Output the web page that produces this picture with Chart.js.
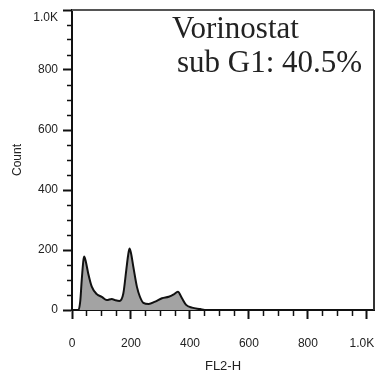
<!DOCTYPE html>
<html>
<head>
<meta charset="utf-8">
<title>Vorinostat FL2-H histogram</title>
<script src="https://cdn.jsdelivr.net/npm/chart.js@4"></script>
<style>
  html, body { margin: 0; padding: 0; background: #fff; }
  canvas { display: block; }
</style>
</head>
<body>
<canvas id="hist" width="375" height="376"></canvas>
<script>
// FL2-H channel values and event counts along the histogram outline
const fl2 = [0, 22, 28, 33, 38, 41, 46, 55, 67, 84, 101, 118, 135, 146, 161, 174, 184, 190, 195, 200, 208, 220, 230, 242, 260, 282, 305, 328, 345, 359, 373, 387, 407, 435, 450, 1024];
const counts = [0, 0, 30, 100, 160, 178, 165, 122, 78, 53, 44, 33, 37, 33, 30, 55, 133, 180, 205, 190, 144, 78, 45, 24, 20, 28, 39, 44, 52, 61, 39, 17, 8, 3, 0, 0];

// labelled ticks (same on both axes), minor ticks every 50
const majorTicks = [0, 200, 400, 600, 800, 1000];
const tickLabels = ['0', '200', '400', '600', '800', '1.0K'];
const minorStep = 50;

const sampleName = 'Vorinostat';
const subG1Text = 'sub G1: 40.5%';

const fl2Max = 1024;
const countMax = 1000;

function labelFor(value) {
  const i = majorTicks.indexOf(value);
  return i < 0 ? '' : tickLabels[i];
}

function isMajor(ctx) {
  return ctx.tick && majorTicks.includes(ctx.tick.value);
}

function buildTicks(scale) {
  const ticks = [];
  for (let v = 0; v <= majorTicks[majorTicks.length - 1]; v += minorStep) {
    ticks.push({ value: v });
  }
  scale.ticks = ticks;
}

// keep label overhang from shrinking the plot box
function noPadding(scale) {
  scale.paddingLeft = scale.paddingRight = 0;
  scale.paddingTop = scale.paddingBottom = 0;
}

const tickFont = { family: 'Liberation Sans, Arial, sans-serif', size: 12 };

// top and right edges of the plot box, plus the sample caption
const framePlugin = {
  id: 'frame',
  afterDraw(chart) {
    const { ctx, chartArea: a } = chart;
    ctx.save();
    ctx.lineWidth = 2;
    ctx.strokeStyle = '#555';
    ctx.beginPath();
    ctx.moveTo(a.left, a.top);
    ctx.lineTo(a.right, a.top);
    ctx.stroke();
    ctx.strokeStyle = '#333';
    ctx.beginPath();
    ctx.moveTo(a.right, a.top);
    ctx.lineTo(a.right, a.bottom);
    ctx.stroke();

    ctx.fillStyle = '#222';
    ctx.font = '31px "Liberation Serif", "Times New Roman", serif';
    ctx.textBaseline = 'alphabetic';
    ctx.textAlign = 'left';
    ctx.fillText(sampleName, a.left + 100, a.top + 28);
    ctx.fillText(subG1Text, a.left + 105, a.top + 62);
    ctx.restore();
  }
};

new Chart(document.getElementById('hist'), {
  type: 'line',
  data: {
    datasets: [{
      data: fl2.map((x, i) => ({ x: x, y: counts[i] })),
      borderColor: '#111',
      borderWidth: 2,
      backgroundColor: '#a3a3a3',
      fill: 'origin',
      pointRadius: 0,
      cubicInterpolationMode: 'monotone'
    }]
  },
  options: {
    responsive: false,
    animation: false,
    layout: { padding: { top: 10, right: 1, left: 0, bottom: 0 } },
    plugins: {
      legend: { display: false },
      tooltip: { enabled: false }
    },
    scales: {
      x: {
        type: 'linear',
        min: 0,
        max: fl2Max,
        afterBuildTicks: buildTicks,
        afterFit(scale) { scale.height = 66; noPadding(scale); },
        border: { color: '#111', width: 2 },
        grid: {
          drawOnChartArea: false,
          tickLength: 9,
          tickColor: '#111',
          tickWidth: (ctx) => isMajor(ctx) ? 2 : 1.5,
          tickBorderDash: (ctx) => isMajor(ctx) ? [] : [5, 20]
        },
        ticks: {
          autoSkip: false,
          maxRotation: 0,
          padding: 17,
          color: '#222',
          font: tickFont,
          // last label is nudged left so it stays on the canvas
          callback: (v) => v === countMax ? labelFor(v) + '\u00a0\u00a0\u00a0' : labelFor(v)
        },
        title: {
          display: true,
          text: 'FL2-H',
          color: '#222',
          font: { family: 'Liberation Sans, Arial, sans-serif', size: 13 },
          padding: { top: 0, bottom: 2 }
        }
      },
      y: {
        type: 'linear',
        min: 0,
        max: countMax,
        afterBuildTicks: buildTicks,
        afterFit(scale) { scale.width = 72; noPadding(scale); },
        border: { color: '#111', width: 2 },
        grid: {
          drawOnChartArea: false,
          tickLength: 9,
          tickColor: '#111',
          tickWidth: (ctx) => isMajor(ctx) ? 2 : 1.5,
          tickBorderDash: (ctx) => isMajor(ctx) ? [] : [4, 4],
          tickBorderDashOffset: (ctx) => isMajor(ctx) ? 0 : 4
        },
        ticks: {
          autoSkip: false,
          padding: 5,
          color: '#222',
          font: tickFont,
          // the top label sits just under its tick
          callback: (v) => v === countMax ? ['', labelFor(v)] : labelFor(v)
        },
        title: {
          display: true,
          text: 'Count',
          color: '#222',
          font: { family: 'Liberation Sans, Arial, sans-serif', size: 12 },
          padding: { top: 10, bottom: 0 }
        }
      }
    }
  },
  plugins: [framePlugin]
});
</script>
</body>
</html>
